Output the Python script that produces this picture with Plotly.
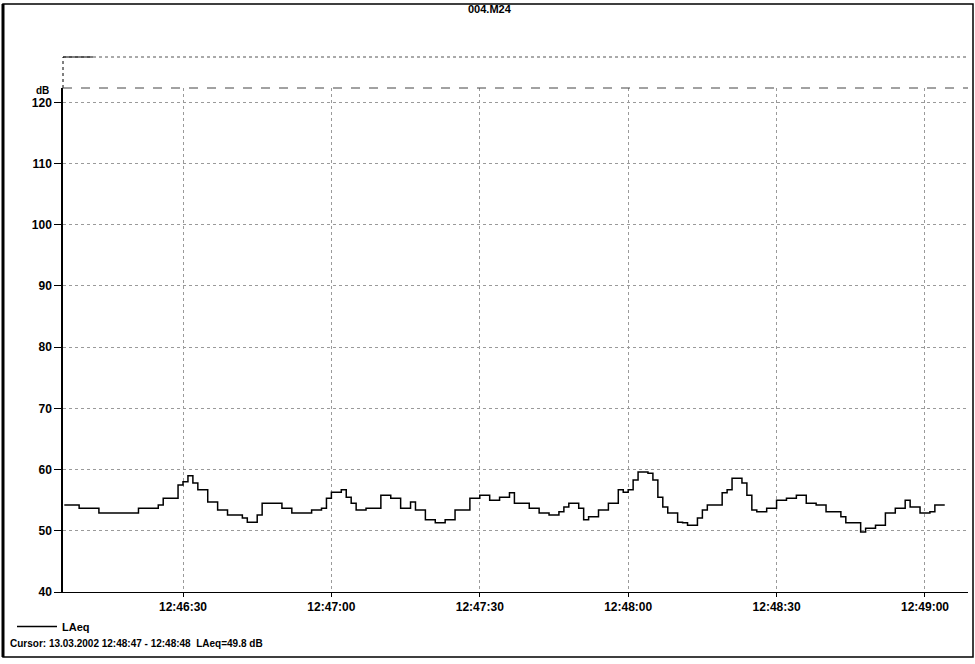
import plotly.graph_objects as go

DATE = "2002-03-13"
times = ["12:46:06","12:46:09","12:46:13","12:46:21","12:46:25","12:46:26","12:46:29","12:46:30",
         "12:46:31","12:46:32","12:46:33","12:46:35","12:46:37","12:46:39","12:46:42","12:46:43",
         "12:46:45","12:46:46","12:46:50","12:46:52","12:46:56","12:46:58","12:46:59","12:47:00",
         "12:47:02","12:47:03","12:47:04","12:47:05","12:47:07","12:47:10","12:47:12","12:47:14",
         "12:47:16","12:47:17","12:47:19","12:47:21","12:47:23","12:47:25","12:47:28","12:47:30",
         "12:47:32","12:47:34","12:47:36","12:47:37","12:47:40","12:47:42","12:47:44","12:47:46",
         "12:47:47","12:47:48","12:47:50","12:47:51","12:47:52","12:47:54","12:47:56","12:47:58",
         "12:47:59","12:48:00","12:48:01","12:48:02","12:48:04","12:48:05","12:48:06","12:48:07",
         "12:48:08","12:48:10","12:48:11","12:48:12","12:48:14","12:48:15","12:48:16","12:48:19",
         "12:48:20","12:48:21","12:48:23","12:48:24","12:48:25","12:48:26","12:48:28","12:48:30",
         "12:48:32","12:48:34","12:48:36","12:48:38","12:48:40","12:48:43","12:48:44","12:48:47",
         "12:48:48","12:48:50","12:48:52","12:48:54","12:48:56","12:48:57","12:48:59","12:49:01",
         "12:49:02","12:49:04"]
laeq = [54.2,53.7,52.9,53.7,54.2,55.3,57.5,58.0,
        59.0,57.8,56.7,54.7,53.4,52.6,52.1,51.4,
        52.6,54.5,53.7,52.9,53.4,53.7,55.3,56.3,
        56.7,55.5,54.5,53.4,53.7,55.8,55.3,53.7,
        54.7,53.4,51.8,51.3,51.8,53.4,55.3,55.8,
        55.0,55.5,56.2,54.5,53.7,52.9,52.6,53.1,
        53.9,54.5,53.7,51.8,52.3,53.4,54.5,56.7,
        56.3,56.7,58.3,59.6,59.4,58.3,55.5,53.9,
        52.9,51.4,51.3,50.9,52.1,53.4,54.2,56.2,
        56.7,58.6,57.8,55.8,53.4,53.1,53.7,55.0,
        55.3,55.8,54.5,54.2,53.1,52.3,51.3,49.8,
        50.4,50.9,52.9,53.7,55.0,53.9,52.9,53.1,
        54.2,54.2]
y_ticks = [40, 50, 60, 70, 80, 90, 100, 110, 120]
title_text = "004.M24"
cursor_text = "Cursor: 13.03.2002 12:48:47 - 12:48:48  LAeq=49.8 dB"

# pixel geometry helpers (plot area 63..968 x, 88..592 y)
L, R, T, B = 63, 968, 88, 592
def px(x):
    return (x - L) / (R - L)
def py(y):
    return (B - y) / (B - T)

x_vals = [f"{DATE} {t}" for t in times]

fig = go.Figure()
fig.add_trace(go.Scatter(
    x=x_vals, y=laeq, mode="lines", line_shape="hv",
    line=dict(color="black", width=1.5), name="LAeq", showlegend=True))

fig.update_layout(
    width=975, height=664,
    margin=dict(l=L, r=975 - R, t=T, b=664 - B),
    paper_bgcolor="white", plot_bgcolor="white",
    font=dict(family="Liberation Sans, Arial, sans-serif", size=11, color="black"),
    showlegend=True,
    legend=dict(x=px(12), y=py(612), xanchor="left", yanchor="top",
                bgcolor="rgba(0,0,0,0)", font=dict(size=11, weight="bold"),
                itemwidth=40, tracegroupgap=0),
    xaxis=dict(type="date", range=[f"{DATE} 12:46:05.74", f"{DATE} 12:49:08.70"],
               tick0=f"{DATE} 12:46:00", dtick=30000, tickformat="%H:%M:%S",
               showgrid=True, gridcolor="#9a9a9a", griddash="dot", gridwidth=1,
               showline=True, linecolor="black", linewidth=1,
               ticks="outside", ticklen=4, tickcolor="black",
               tickfont=dict(size=12, weight="bold"), zeroline=False),
    yaxis=dict(range=[40, 122.35], tickvals=y_ticks,
               showgrid=True, gridcolor="#9a9a9a", griddash="dot", gridwidth=1,
               showline=True, linecolor="black", linewidth=1.5,
               ticks="outside", ticklen=7, tickcolor="black",
               tickfont=dict(size=12, weight="bold"), zeroline=False),
    annotations=[
        dict(text=title_text, x=px(490), y=py(9), xref="paper", yref="paper",
             showarrow=False, xanchor="center", yanchor="middle",
             font=dict(size=11, weight="bold")),
        dict(text="dB", x=px(51), y=py(90), xref="paper", yref="paper",
             showarrow=False, xanchor="right", yanchor="middle",
             font=dict(size=10, weight="bold")),
        dict(text=cursor_text, x=px(8), y=py(643), xref="paper", yref="paper",
             showarrow=False, xanchor="left", yanchor="middle",
             font=dict(size=10, weight="bold")),
    ],
    shapes=[
        # outer frame
        dict(type="rect", xref="paper", yref="paper", x0=px(3), x1=px(973), y0=py(657), y1=py(4),
             line=dict(color="black", width=1.5)),
        dict(type="line", xref="paper", yref="paper", x0=px(3), x1=px(3), y0=py(657), y1=py(4),
             line=dict(color="black", width=3)),
        # upper frame line above plot area
        dict(type="line", xref="paper", yref="paper", x0=px(63), x1=px(968), y0=py(57), y1=py(57),
             line=dict(color="#555", width=1, dash="dot")),
        dict(type="line", xref="paper", yref="paper", x0=px(63), x1=px(93), y0=py(57), y1=py(57),
             line=dict(color="black", width=1)),
        dict(type="line", xref="paper", yref="paper", x0=px(63), x1=px(63), y0=1, y1=py(57),
             line=dict(color="black", width=1, dash="dot")),
        # top edge of plot area
        dict(type="line", xref="paper", yref="paper", x0=0, x1=1, y0=1, y1=1,
             line=dict(color="#444", width=1, dash="dash")),
    ],
)

fig.write_html("out.html", config={"displayModeBar": False},
               post_script="document.body.style.margin='0';")
